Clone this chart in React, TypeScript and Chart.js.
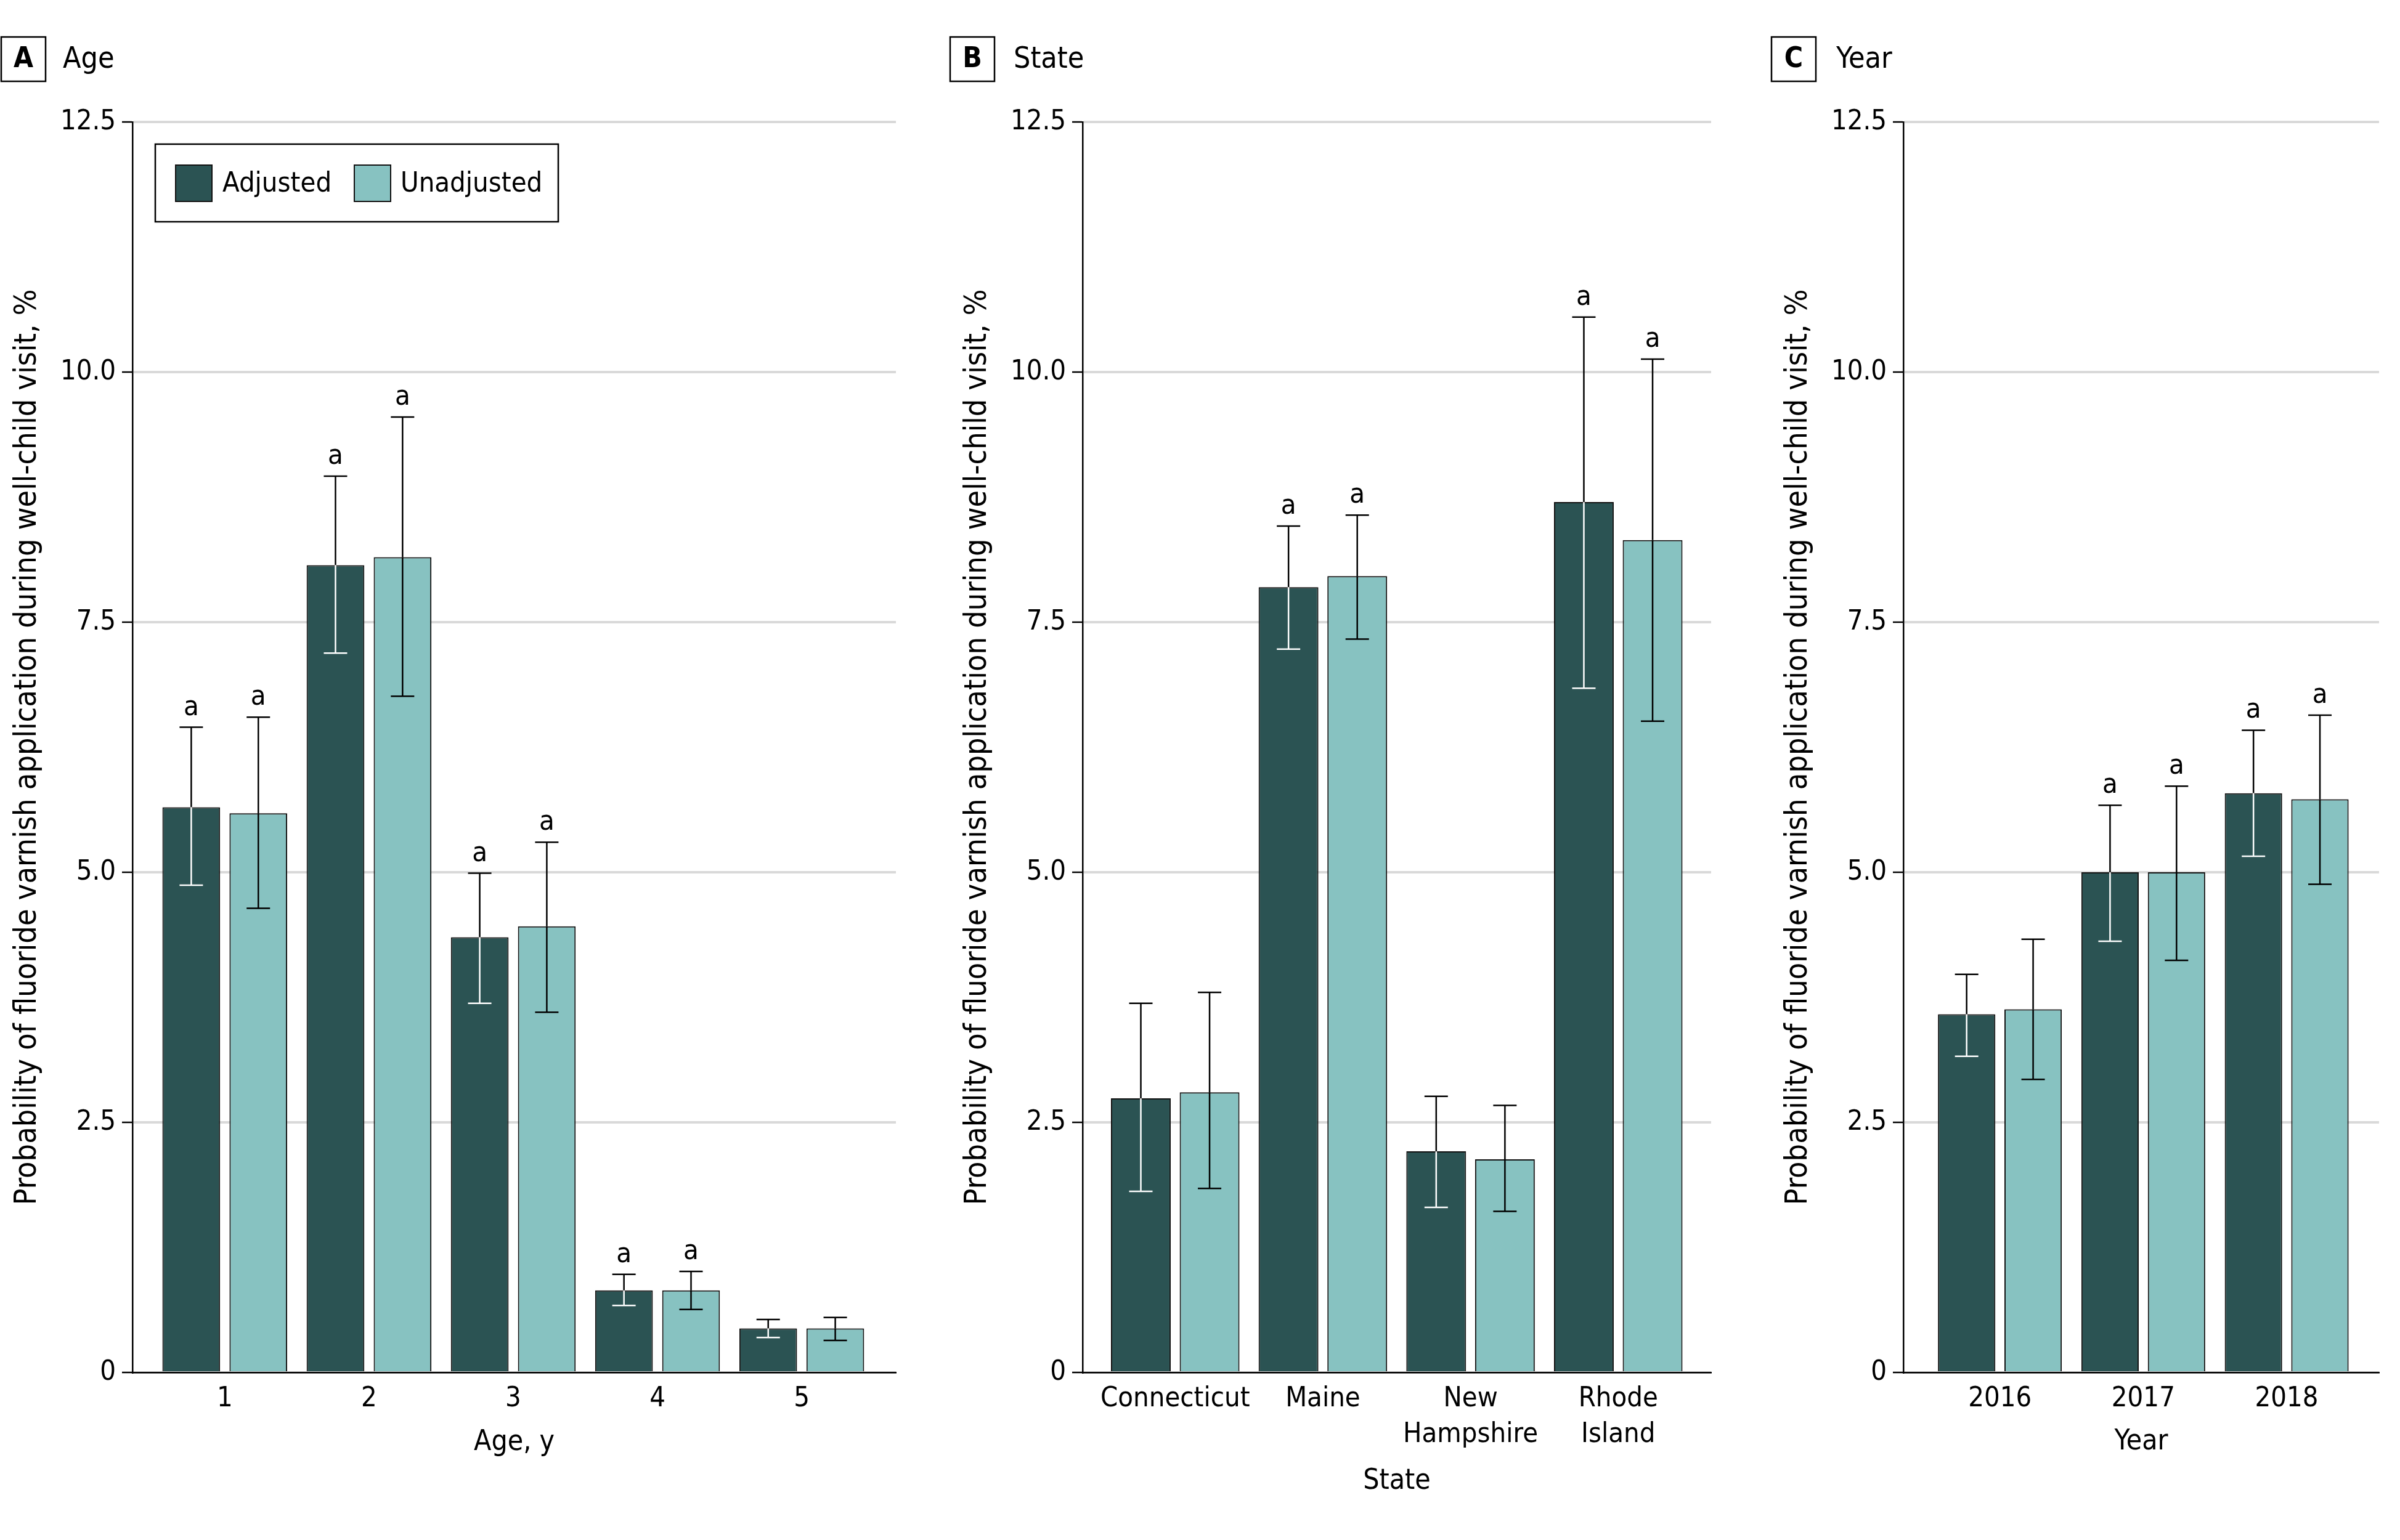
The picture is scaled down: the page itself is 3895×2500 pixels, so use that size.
import React, { useEffect, useRef } from 'react';
import { Chart, registerables } from 'chart.js';

Chart.register(...registerables);

const FONT = "'DejaVu Sans Condensed', 'DejaVu Sans', sans-serif";
const DARK = '#2b5353';
const LIGHT = '#87c2c1';
const GRID = '#d9d9d9';
const Y_TITLE = 'Probability of fluoride varnish application during well-child visit, %';

// ---- Panel A: Age ----
const ageCategories = ['1', '2', '3', '4', '5'];
const ageAdjusted = [5.65, 8.07, 4.35, 0.82, 0.44];
const ageAdjustedLower = [4.87, 7.19, 3.69, 0.67, 0.35];
const ageAdjustedUpper = [6.45, 8.96, 4.99, 0.98, 0.53];
const ageAdjustedSig = [true, true, true, true, false];
const ageUnadjusted = [5.59, 8.15, 4.46, 0.82, 0.44];
const ageUnadjustedLower = [4.64, 6.76, 3.6, 0.63, 0.32];
const ageUnadjustedUpper = [6.55, 9.55, 5.3, 1.01, 0.55];
const ageUnadjustedSig = [true, true, true, true, false];

// ---- Panel B: State ----
const stateCategories = ['Connecticut', 'Maine', 'New Hampshire', 'Rhode Island'];
const stateTickLabels = [['Connecticut'], ['Maine'], ['New', 'Hampshire'], ['Rhode', 'Island']];
const stateAdjusted = [2.74, 7.85, 2.21, 8.7];
const stateAdjustedLower = [1.81, 7.23, 1.65, 6.84];
const stateAdjustedUpper = [3.69, 8.46, 2.76, 10.55];
const stateAdjustedSig = [false, true, false, true];
const stateUnadjusted = [2.8, 7.96, 2.13, 8.32];
const stateUnadjustedLower = [1.84, 7.33, 1.61, 6.51];
const stateUnadjustedUpper = [3.8, 8.57, 2.67, 10.13];
const stateUnadjustedSig = [false, true, false, true];

// ---- Panel C: Year ----
const yearCategories = ['2016', '2017', '2018'];
const yearAdjusted = [3.58, 5.0, 5.79];
const yearAdjustedLower = [3.16, 4.31, 5.16];
const yearAdjustedUpper = [3.98, 5.67, 6.42];
const yearAdjustedSig = [false, true, true];
const yearUnadjusted = [3.63, 5.0, 5.73];
const yearUnadjustedLower = [2.93, 4.12, 4.88];
const yearUnadjustedUpper = [4.33, 5.86, 6.57];
const yearUnadjustedSig = [false, true, true];

const yTicks = [0, 2.5, 5, 7.5, 10, 12.5];
const seriesNames = ['Adjusted', 'Unadjusted'];

type Series = { values: number[]; lower: number[]; upper: number[]; sig: boolean[]; color: string; inner: boolean };

type PanelCfg = {
  letter: string;
  title: string;
  xTitle: string;
  left: number;
  width: number;
  yWidth: number;
  padRight: number;
  xMin: number;
  xMax: number;
  catPct: number;
  barPct: number;
  tickLabels: (string | string[])[];
  series: Series[];
  boxX: number;
  titleX: number;
  yTitlePad: number;
  xTitlePad: number;
  legend: boolean;
};

const H = 2500;
const PLOT_TOP = 198;
const PLOT_BOTTOM = 2228;

function makeOverlayPlugin(cfg: PanelCfg) {
  return {
    id: 'overlay' + cfg.letter,
    afterDatasetsDraw(chart: any) {
      const { ctx } = chart;
      const y = chart.scales.y;
      ctx.save();
      cfg.series.forEach((s, di) => {
        const meta = chart.getDatasetMeta(di);
        meta.data.forEach((bar: any, i: number) => {
          const x = bar.x;
          const top = bar.y;
          const yHi = y.getPixelForValue(s.upper[i]);
          const yLo = y.getPixelForValue(s.lower[i]);
          const capHalf = 19;
          ctx.lineWidth = 2.5;
          const colorAt = (py: number) => (s.inner && py > top ? '#ffffff' : '#000000');
          ctx.strokeStyle = '#000000';
          ctx.beginPath();
          ctx.moveTo(x, yHi);
          ctx.lineTo(x, Math.min(top, yLo));
          ctx.stroke();
          ctx.strokeStyle = s.inner ? '#ffffff' : '#000000';
          ctx.beginPath();
          ctx.moveTo(x, Math.min(top, yLo));
          ctx.lineTo(x, yLo);
          ctx.stroke();
          ctx.strokeStyle = colorAt(yHi);
          ctx.beginPath();
          ctx.moveTo(x - capHalf, yHi);
          ctx.lineTo(x + capHalf, yHi);
          ctx.stroke();
          ctx.strokeStyle = colorAt(yLo);
          ctx.beginPath();
          ctx.moveTo(x - capHalf, yLo);
          ctx.lineTo(x + capHalf, yLo);
          ctx.stroke();
          if (s.sig[i]) {
            ctx.fillStyle = '#000000';
            ctx.font = `45px ${FONT}`;
            ctx.textAlign = 'center';
            ctx.textBaseline = 'alphabetic';
            ctx.fillText('a', x, yHi - 20);
          }
        });
      });
      ctx.restore();
    },
    afterDraw(chart: any) {
      const { ctx } = chart;
      ctx.save();
      ctx.strokeStyle = '#000';
      ctx.lineWidth = 2.5;
      ctx.strokeRect(cfg.boxX, 60, 72, 72);
      ctx.fillStyle = '#000';
      ctx.font = `bold 46px ${FONT}`;
      ctx.textAlign = 'center';
      ctx.textBaseline = 'middle';
      ctx.fillText(cfg.letter, cfg.boxX + 36, 97);
      ctx.font = `48px ${FONT}`;
      ctx.textAlign = 'left';
      ctx.fillText(cfg.title, cfg.titleX, 98);
      if (cfg.legend) {
        ctx.lineWidth = 2.5;
        ctx.strokeRect(252, 234, 654, 126);
        const items = [
          { x: 285, tx: 361, color: DARK, label: seriesNames[0] },
          { x: 575, tx: 650, color: LIGHT, label: seriesNames[1] },
        ];
        items.forEach((it) => {
          ctx.fillStyle = it.color;
          ctx.fillRect(it.x, 268, 59, 59);
          ctx.lineWidth = 2;
          ctx.strokeStyle = '#111';
          ctx.strokeRect(it.x, 268, 59, 59);
          ctx.fillStyle = '#000';
          ctx.font = `45px ${FONT}`;
          ctx.textAlign = 'left';
          ctx.textBaseline = 'middle';
          ctx.fillText(it.label, it.tx, 299);
        });
      }
      ctx.restore();
    },
  };
}

function Panel({ cfg }: { cfg: PanelCfg }) {
  const ref = useRef<HTMLCanvasElement>(null);
  useEffect(() => {
    if (!ref.current) return;
    const positions = cfg.tickLabels.map((_, i) => i + 1);
    const chart = new Chart(ref.current, {
      type: 'bar',
      data: {
        labels: positions as any,
        datasets: cfg.series.map((s, di) => ({
          label: seriesNames[di],
          data: s.values,
          backgroundColor: s.color,
          borderColor: '#111111',
          borderWidth: 2,
          categoryPercentage: cfg.catPct,
          barPercentage: cfg.barPct,
        })),
      },
      options: {
        responsive: false,
        animation: false,
        devicePixelRatio: 1,
        layout: { padding: { left: 0, top: PLOT_TOP, right: cfg.padRight, bottom: 0 } },
        plugins: { legend: { display: false }, tooltip: { enabled: false } },
        scales: {
          x: {
            type: 'linear',
            min: cfg.xMin,
            max: cfg.xMax,
            offset: false,
            z: 1,
            afterBuildTicks: (s: any) => {
              s.ticks = positions.map((v) => ({ value: v }));
            },
            afterFit: (s: any) => {
              s.height = H - PLOT_BOTTOM;
            },
            grid: { display: false, drawTicks: false, offset: false },
            border: { display: true, color: '#000', width: 2.5 },
            ticks: {
              autoSkip: false,
              maxRotation: 0,
              minRotation: 0,
              color: '#000',
              padding: 15,
              font: { family: FONT, size: 45, lineHeight: 1.28 },
              callback: (v: any) => cfg.tickLabels[Math.round(Number(v)) - 1] ?? '',
            },
            title: {
              display: true,
              text: cfg.xTitle,
              color: '#000',
              font: { family: FONT, size: 46, lineHeight: 1.2 },
              padding: { top: 0, bottom: cfg.xTitlePad },
            },
          } as any,
          y: {
            type: 'linear',
            min: 0,
            max: 12.5,
            afterBuildTicks: (s: any) => {
              s.ticks = yTicks.map((v) => ({ value: v }));
            },
            afterFit: (s: any) => {
              s.width = cfg.yWidth;
            },
            grid: { color: GRID, lineWidth: 4, tickLength: 17, tickColor: '#000', tickWidth: 2.5, drawTicks: true },
            border: { display: true, color: '#000', width: 2.5 },
            ticks: {
              color: '#000',
              padding: 10,
              font: { family: FONT, size: 45 },
              callback: (v: any) => (Number(v) === 0 ? '0' : Number(v).toFixed(1)),
            },
            title: {
              display: true,
              text: Y_TITLE,
              color: '#000',
              font: { family: FONT, size: 50, lineHeight: 1.2 },
              padding: { top: cfg.yTitlePad, bottom: 0 },
            },
          } as any,
        },
      },
      plugins: [makeOverlayPlugin(cfg)],
    });
    return () => chart.destroy();
  }, []);
  return (
    <canvas
      ref={ref}
      width={cfg.width}
      height={H}
      style={{ position: 'absolute', left: cfg.left, top: 0, width: cfg.width, height: H, display: 'block' }}
    />
  );
}

const panels: PanelCfg[] = [
  {
    letter: 'A',
    title: 'Age',
    xTitle: 'Age, y',
    left: 0,
    width: 1500,
    yWidth: 215,
    padRight: 1500 - 1454,
    xMin: 0.36,
    xMax: 5.653,
    catPct: 0.93,
    barPct: 0.86,
    tickLabels: ageCategories,
    series: [
      { values: ageAdjusted, lower: ageAdjustedLower, upper: ageAdjustedUpper, sig: ageAdjustedSig, color: DARK, inner: true },
      { values: ageUnadjusted, lower: ageUnadjustedLower, upper: ageUnadjustedUpper, sig: ageUnadjustedSig, color: LIGHT, inner: false },
    ],
    boxX: 2,
    titleX: 102,
    yTitlePad: 15,
    xTitlePad: 130,
    legend: true,
  },
  {
    letter: 'B',
    title: 'State',
    xTitle: 'State',
    left: 1500,
    width: 1330,
    yWidth: 257,
    padRight: 2830 - 2777,
    xMin: 0.373,
    xMax: 4.629,
    catPct: 0.931,
    barPct: 0.869,
    tickLabels: stateTickLabels,
    series: [
      { values: stateAdjusted, lower: stateAdjustedLower, upper: stateAdjustedUpper, sig: stateAdjustedSig, color: DARK, inner: true },
      { values: stateUnadjusted, lower: stateUnadjustedLower, upper: stateUnadjustedUpper, sig: stateUnadjustedSig, color: LIGHT, inner: false },
    ],
    boxX: 42,
    titleX: 145,
    yTitlePad: 57,
    xTitlePad: 67,
    legend: false,
  },
  {
    letter: 'C',
    title: 'Year',
    xTitle: 'Year',
    left: 2830,
    width: 1065,
    yWidth: 259,
    padRight: 3895 - 3861,
    xMin: 0.327,
    xMax: 3.644,
    catPct: 0.927,
    barPct: 0.863,
    tickLabels: yearCategories,
    series: [
      { values: yearAdjusted, lower: yearAdjustedLower, upper: yearAdjustedUpper, sig: yearAdjustedSig, color: DARK, inner: true },
      { values: yearUnadjusted, lower: yearUnadjustedLower, upper: yearUnadjustedUpper, sig: yearUnadjustedSig, color: LIGHT, inner: false },
    ],
    boxX: 45,
    titleX: 150,
    yTitlePad: 59,
    xTitlePad: 131,
    legend: false,
  },
];

export default function App() {
  return (
    <div style={{ position: 'absolute', left: 0, top: 0, width: 3895, height: H, background: '#fff', overflow: 'hidden' }}>
      {panels.map((p) => (
        <Panel key={p.letter} cfg={p} />
      ))}
    </div>
  );
}
